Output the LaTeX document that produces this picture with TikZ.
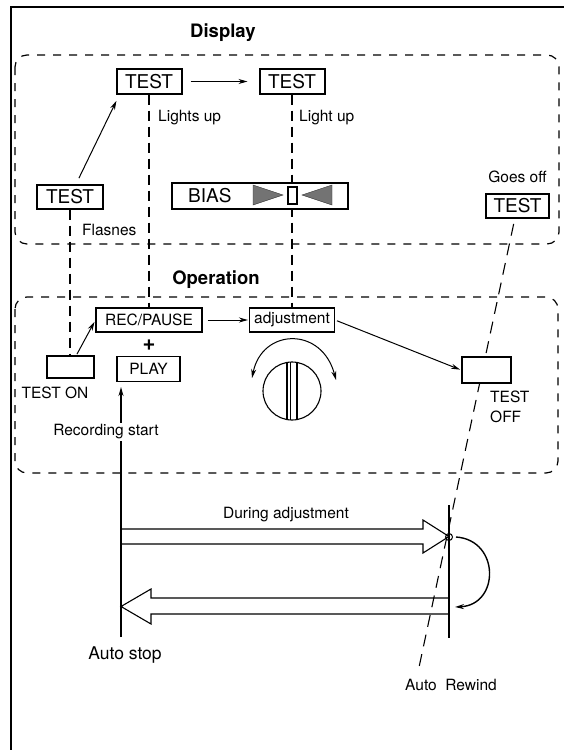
\documentclass[tikz,border=0pt]{standalone}
\usepackage{fontspec}
\setmainfont{TeX Gyre Heros}
\usetikzlibrary{arrows.meta}

\tikzset{
	lcd/.style={draw, line width=2bp, fill=white, minimum width=65bp, minimum height=24bp, inner sep=0pt, font=\fontsize{19bp}{20bp}\selectfont},
	key/.style={draw, line width=1.1bp, fill=white, minimum height=24bp, inner sep=0pt, font=\fontsize{15.5bp}{17bp}\selectfont},
	btn/.style={draw, line width=2bp, fill=white, minimum width=47bp, minimum height=22bp},
	lbl/.style={inner sep=0pt, font=\fontsize{15.5bp}{20bp}\selectfont},
	head/.style={inner sep=0pt, font=\bfseries\fontsize{18.5bp}{20bp}\selectfont},
	area/.style={dash pattern=on 8bp off 8bp, line width=1.2bp, rounded corners=12bp},
	link/.style={dash pattern=on 10bp off 6bp, line width=1.3bp},
	arr/.style={-{Stealth[length=9bp,width=5bp]}, line width=1bp},
	tape/.style={line width=1.1bp, line join=miter},
}

\begin{document}
\begin{tikzpicture}[x=1bp, y=-1bp]
	\useasboundingbox (0,0) rectangle (564,750);
	\draw [line width=1.2bp] (11,750)--(11,7)--(564,7);
	% display
	\draw [area] (15,55) rectangle (559,244);
	\node [head] (dsp) at (223,33) {Display};
	\node [lcd] (testtop) at (149,81.5) {TEST};
	\node [lcd] (testlit) at (292,81.5) {TEST};
	\node [lcd, minimum width=66bp] (testflash) at (70,196.5) {TEST};
	\node [lcd, minimum width=63bp] (testgone) at (517.5,206) {TEST};
	\node [lbl, anchor=west] (lights) at (158,118) {Lights up};
	\node [lbl, anchor=west] (light) at (299,118) {Light up};
	\node [lbl, anchor=west] (flash) at (82,230) {Flasnes};
	\node [lbl] (goes) at (517.5,177) {Goes off};
	% operation
	\draw [area] (15,297) rectangle (558,473);
	\node [head] (opr) at (216,280) {Operation};
	\node [key, minimum width=106bp] (recpause) at (149,320) {REC/PAUSE};
	\node [key, minimum width=85bp] (adjust) at (292,320) {adjustment};
	\node [font=\bfseries\fontsize{22bp}{22bp}\selectfont, inner sep=0pt] (plus) at (149,345) {+};
	\node [key, minimum width=63bp, minimum height=25bp] (play) at (148.5,369) {PLAY};
	\node [btn] (teston) at (70,367) {};
	\node [lbl] (onlbl) at (55,393) {TEST ON};
	\draw [link] (testflash) -- (teston);
	\draw [link] (testtop) -- (recpause);
	\draw [link] (testlit) -- (adjust);
	% bias bar
	\node [draw, line width=1.1bp, fill=white, minimum width=176bp, minimum height=26bp] (bias) at (260,196) {};
	\node [font=\fontsize{19bp}{20bp}\selectfont, inner sep=0pt, anchor=west] (biastxt) at (188,196) {BIAS};
	\filldraw [fill=black!55, draw=black!80] (253,185)--(283,195)--(253,205)--cycle;
	\filldraw [fill=black!55, draw=black!80] (332,185)--(302,195)--(332,205)--cycle;
	\draw [line width=1.6bp, fill=white] (288,187) rectangle (297,204);
	% rewind line
	\coordinate (rewend) at (418,672);
	\draw [dash pattern=on 12bp off 8bp, line width=1.1bp, shorten <=5bp] (testgone) -- (rewend);
	\node [btn, minimum width=49bp, minimum height=26bp] (testoff) at (486.5,370) {};
	\node [lbl, anchor=west, align=left] (offlbl) at (490,407) {TEST\\OFF};
	\draw [arr, shorten <=6bp, shorten >=7bp] (testflash) -- ([xshift=4bp]testtop.south west);
	\draw [arr, shorten <=8bp, shorten >=11bp] (testtop) -- (testlit);
	\draw [arr, shorten <=1bp, shorten >=2bp] (teston) -- (recpause.west);
	\draw [arr, shorten <=5bp, shorten >=1bp] (recpause) -- (adjust);
	\draw [arr, shorten <=2bp, shorten >=1bp] (adjust.east) -- (testoff.west);
	% dial
	\draw [line width=1.1bp] (292,391) circle (29bp);
	\begin{scope}
		\clip (292,391) circle (29bp);
		\draw [line width=1.1bp] (287,355)--(287,430);
		\draw (290,355)--(290,430);
		\draw [line width=1.1bp] (297,355)--(297,430);
	\end{scope}
	\draw [{Stealth[length=9bp,width=5bp]}-{Stealth[length=9bp,width=5bp]}, line width=1bp] (252,378) .. controls (262,328) and (322,326) .. (336,380);
	% tape
	\coordinate (stopbot) at (121,637);
	\draw [arr, line width=1.2bp, shorten >=5bp] (stopbot) -- (stopbot |- play.south);
	\node [lbl, fill=white, inner sep=1.5bp] (recstart) at (106,432) {Recording start};
	\coordinate (rewtop) at (449,505);
	\coordinate (rewbot) at (449,638);
	\draw [line width=1.2bp] (rewtop) -- (rewbot);
	\node [lbl] (during) at (286,515) {During adjustment};
	\draw [tape] (121,529)--(423,529)--(423,520)--(449,536.5)--(423,553)--(423,544)--(121,544);
	\draw [tape] (449,598)--(151,598)--(151,589)--(121,606.5)--(151,624)--(151,614)--(449,614);
	\draw [line width=1bp] (449,537) circle (3.5bp);
	\draw [arr, line width=1.4bp] (456,537) .. controls (500,540) and (500,605) .. (455,607);
	\node [inner sep=0pt, font=\fontsize{17.5bp}{20bp}\selectfont] (stoplbl) at (125,655) {Auto stop};
	\node [lbl] (rewlbl) at (451,685) {Auto\ \ Rewind};
\end{tikzpicture}
\end{document}
